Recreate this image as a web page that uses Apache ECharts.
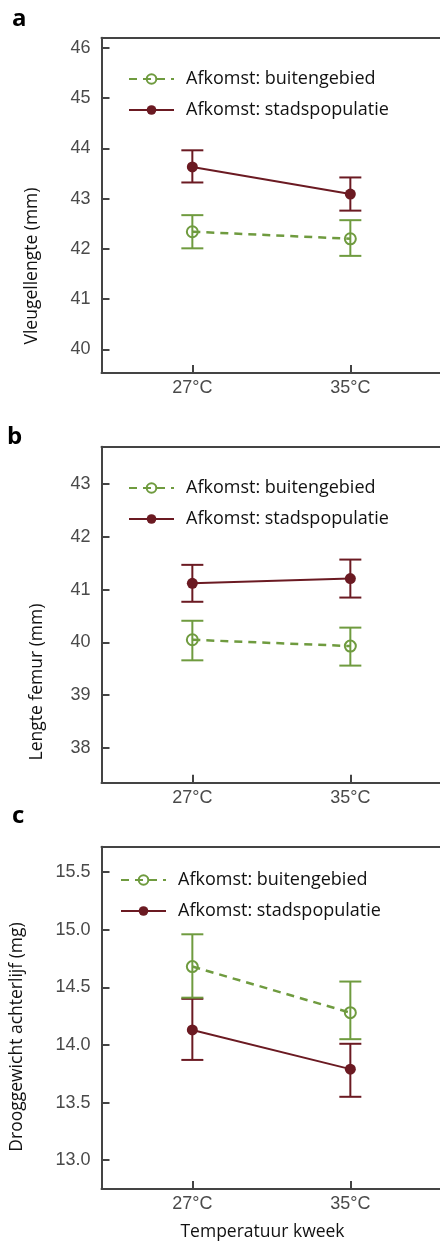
<!DOCTYPE html>
<html>
<head>
<meta charset="utf-8">
<style>html,body{margin:0;padding:0;background:#fff;}#chart{width:440px;height:1241px;}</style>
<script src="https://cdn.jsdelivr.net/npm/echarts@6/dist/echarts.min.js"></script>
</head>
<body>
<div id="chart"></div>
<script>
// ---- data ----
const temps = [27, 35];
const tempLabels = ['27°C', '35°C'];
const seriesNames = ['Afkomst: buitengebied', 'Afkomst: stadspopulatie'];

// Panel a: Vleugellengte (mm)
const aTicks = [40, 41, 42, 43, 44, 45, 46];
const aBuitenMean = [42.34, 42.20];
const aBuitenLow  = [42.01, 41.86];
const aBuitenHigh = [42.67, 42.57];
const aStadMean = [43.63, 43.09];
const aStadLow  = [43.32, 42.76];
const aStadHigh = [43.96, 43.42];

// Panel b: Lengte femur (mm)
const bTicks = [38, 39, 40, 41, 42, 43];
const bBuitenMean = [40.05, 39.93];
const bBuitenLow  = [39.66, 39.56];
const bBuitenHigh = [40.41, 40.28];
const bStadMean = [41.12, 41.21];
const bStadLow  = [40.77, 40.85];
const bStadHigh = [41.47, 41.57];

// Panel c: Drooggewicht achterlijf (mg)
const cTicks = [13.0, 13.5, 14.0, 14.5, 15.0, 15.5];
const cBuitenMean = [14.68, 14.28];
const cBuitenLow  = [14.41, 14.05];
const cBuitenHigh = [14.96, 14.55];
const cStadMean = [14.13, 13.79];
const cStadLow  = [13.87, 13.55];
const cStadHigh = [14.40, 14.01];

const yTitles = ['Vleugellengte (mm)', 'Lengte femur (mm)', 'Drooggewicht achterlijf (mg)'];
const panelLetters = ['a', 'b', 'c'];
const xTitle = 'Temperatuur kweek';

// ---- styling ----
const GREEN = '#6f9b3f';
const RED = '#6b1a22';
const AXIS = '#444';
const TICKLBL = '#4a4a4a';
const FONT = '"Open Sans", "Noto Sans", sans-serif';
const NUMFONT = '"Liberation Sans", Arial, sans-serif';

const panels = [
  {top: 37.7, height: 335.3, min: 39.53, max: 46.2, ticks: aTicks, dec: 0,
   buiten: [aBuitenMean, aBuitenLow, aBuitenHigh], stad: [aStadMean, aStadLow, aStadHigh],
   legendTop: 68, legendLeft: 128, titleY: 266},
  {top: 446.7, height: 336, min: 37.34, max: 43.71, ticks: bTicks, dec: 0,
   buiten: [bBuitenMean, bBuitenLow, bBuitenHigh], stad: [bStadMean, bStadLow, bStadHigh],
   legendTop: 477, legendLeft: 128, titleY: 682},
  {top: 846.7, height: 342.3, min: 12.75, max: 15.72, ticks: cTicks, dec: 1,
   buiten: [cBuitenMean, cBuitenLow, cBuitenHigh], stad: [cStadMean, cStadLow, cStadHigh],
   legendTop: 869, legendLeft: 120, titleY: 1037}
];
const titleX = [31.7, 36.7, 16.7];
const letterPos = [[12, 31], [7, 449], [12, 828]];
const XMIN = 22.4, XMAX = 39.54;

function errRender(color) {
  return function (params, api) {
    const x = api.value(0), lo = api.value(1), hi = api.value(2);
    const pLo = api.coord([x, lo]), pHi = api.coord([x, hi]);
    const hw = 11;
    const style = {stroke: color, lineWidth: 2};
    return {type: 'group', children: [
      {type: 'line', shape: {x1: pLo[0], y1: pLo[1], x2: pHi[0], y2: pHi[1]}, style: style},
      {type: 'line', shape: {x1: pLo[0] - hw, y1: pLo[1], x2: pLo[0] + hw, y2: pLo[1]}, style: style},
      {type: 'line', shape: {x1: pHi[0] - hw, y1: pHi[1], x2: pHi[0] + hw, y2: pHi[1]}, style: style}
    ]};
  };
}

const grid = [], xAxis = [], yAxis = [], series = [], legend = [], graphic = [];
panels.forEach(function (p, i) {
  grid.push({left: 101.5, width: 338.5, top: p.top, height: p.height, show: false,
    outerBoundsMode: 'none', containLabel: false});
  xAxis.push({type: 'value', gridIndex: i, min: XMIN, max: XMAX, position: 'bottom',
    axisLine: {show: true, onZero: false, lineStyle: {color: AXIS, width: 2}},
    axisTick: {show: true, inside: true, length: 8, customValues: temps, lineStyle: {color: AXIS, width: 2}},
    axisLabel: {customValues: temps, margin: 6, color: TICKLBL, fontFamily: NUMFONT, fontSize: 18,
      formatter: function (v) { return tempLabels[temps.indexOf(v)]; }},
    splitLine: {show: false}});
  yAxis.push({type: 'value', gridIndex: i, min: p.min, max: p.max,
    axisLine: {show: true, onZero: false, lineStyle: {color: AXIS, width: 2}},
    axisTick: {show: true, inside: true, length: 8, customValues: p.ticks, lineStyle: {color: AXIS, width: 2}},
    axisLabel: {customValues: p.ticks, margin: 11, color: TICKLBL, fontFamily: NUMFONT, fontSize: 18,
      formatter: function (v) { return v.toFixed(p.dec); }},
    splitLine: {show: false}});

  const stadErr = temps.map(function (t, k) { return [t, p.stad[1][k], p.stad[2][k]]; });
  const buitenErr = temps.map(function (t, k) { return [t, p.buiten[1][k], p.buiten[2][k]]; });

  series.push({type: 'custom', name: 'err-stad-' + i, xAxisIndex: i, yAxisIndex: i,
    renderItem: errRender(RED), encode: {x: 0, y: [1, 2]}, data: stadErr, z: 2, silent: true});
  series.push({type: 'line', name: seriesNames[1], xAxisIndex: i, yAxisIndex: i,
    data: temps.map(function (t, k) { return [t, p.stad[0][k]]; }),
    symbol: 'circle', symbolSize: 11, z: 3,
    lineStyle: {color: RED, width: 2}, itemStyle: {color: RED}});
  series.push({type: 'custom', name: 'err-buiten-' + i, xAxisIndex: i, yAxisIndex: i,
    renderItem: errRender(GREEN), encode: {x: 0, y: [1, 2]}, data: buitenErr, z: 4, silent: true});
  series.push({type: 'line', name: seriesNames[0], xAxisIndex: i, yAxisIndex: i,
    data: temps.map(function (t, k) { return [t, p.buiten[0][k]]; }),
    symbol: 'circle', symbolSize: 11, z: 5,
    lineStyle: {color: GREEN, width: 2.5, type: [8, 6]},
    itemStyle: {color: 'rgba(255,255,255,0)', borderColor: GREEN, borderWidth: 2}});

  legend.push({data: seriesNames, orient: 'vertical', left: p.legendLeft, top: p.legendTop,
    padding: 0, itemWidth: 45, itemHeight: 12, itemGap: 9, selectedMode: false,
    textStyle: {fontFamily: FONT, fontSize: 18, color: '#111', lineHeight: 22, padding: [0, 0, 0, 7]}});

  graphic.push({type: 'text', x: titleX[i], y: p.titleY, rotation: Math.PI / 2,
    style: {text: yTitles[i], fontFamily: FONT, fontSize: 17.5, fill: '#111', align: 'center', verticalAlign: 'middle'}});
  graphic.push({type: 'text', x: letterPos[i][0], y: letterPos[i][1],
    style: {text: panelLetters[i], fontFamily: FONT, fontWeight: 'bold', fontSize: 24, fill: '#000', align: 'left', verticalAlign: 'bottom'}});
});
panels.forEach(function (p, i) {
  xAxis.push({type: 'value', gridIndex: i, min: XMIN, max: XMAX, position: 'top',
    axisLine: {show: true, onZero: false, lineStyle: {color: AXIS, width: 2}},
    axisTick: {show: false}, axisLabel: {show: false}, splitLine: {show: false}});
});
graphic.push({type: 'text', x: 262.5, y: 1232,
  style: {text: xTitle, fontFamily: FONT, fontSize: 17.5, fill: '#111', align: 'center', verticalAlign: 'middle'}});

const chart = echarts.init(document.getElementById('chart'), null, {renderer: 'canvas'});
chart.setOption({
  animation: false,
  backgroundColor: '#fff',
  grid: grid, xAxis: xAxis, yAxis: yAxis, series: series, legend: legend, graphic: graphic
});
</script>
</body>
</html>
